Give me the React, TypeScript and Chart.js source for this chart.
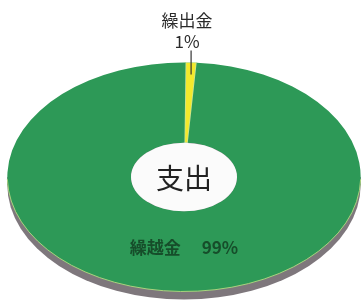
import React, { useEffect, useRef } from "react";
import { Chart, registerables } from "chart.js";

Chart.register(...registerables);

const categories = ["繰出金", "繰越金"];
const values = [1, 99];
const colors = ["#f3e92c", "#2d9957"];
const centerLabel = "支出";

const SX = 1.543; // horizontal stretch of the pie
const DEPTH = 8;

const ellipsePlugin = {
  id: "ellipse3d",
  beforeDatasetsDraw(chart: any) {
    const meta = chart.getDatasetMeta(0);
    const arc = meta.data[0];
    if (!arc) return;
    const { x, y, outerRadius } = arc.getProps(["x", "y", "outerRadius"], true);
    const ctx = chart.ctx;
    ctx.save();
    ctx.beginPath();
    ctx.ellipse(x, y + DEPTH, outerRadius * SX, outerRadius, 0, 0, Math.PI * 2);
    ctx.fillStyle = "#7e777c";
    ctx.fill();
    ctx.fillRect(x - outerRadius * SX, y, outerRadius * SX * 2, DEPTH);
    ctx.restore();
    ctx.save();
    ctx.translate(x, y);
    ctx.scale(SX, 1);
    ctx.translate(-x, -y);
  },
  afterDatasetsDraw(chart: any) {
    chart.ctx.restore();
    const meta = chart.getDatasetMeta(0);
    const a0 = meta.data[0];
    if (!a0) return;
    const { x, y, outerRadius, innerRadius, startAngle, endAngle } = a0.getProps(
      ["x", "y", "outerRadius", "innerRadius", "startAngle", "endAngle"],
      true
    );
    const ctx = chart.ctx;
    ctx.save();
    // hole
    ctx.beginPath();
    ctx.ellipse(x, y, innerRadius * SX, innerRadius, 0, 0, Math.PI * 2);
    ctx.fillStyle = "#fbfbfb";
    ctx.fill();
    // light edge line at bottom front
    ctx.beginPath();
    ctx.ellipse(x, y, outerRadius * SX, outerRadius, 0, 0.02, Math.PI - 0.02);
    ctx.strokeStyle = "#a9d37e";
    ctx.lineWidth = 1;
    ctx.stroke();

    // center label
    ctx.fillStyle = "#222";
    ctx.font = "28px 'Noto Sans CJK JP'";
    ctx.textAlign = "center";
    ctx.textBaseline = "middle";
    ctx.fillText(centerLabel, x, y + 1);

    // small slice label with leader line
    const mid = (startAngle + endAngle) / 2;
    const ex = x + Math.cos(mid) * outerRadius * SX;
    const ey = y + Math.sin(mid) * outerRadius;
    ctx.beginPath();
    ctx.moveTo(ex, ey - 12);
    ctx.lineTo(ex, ey + 12);
    ctx.strokeStyle = "#333";
    ctx.lineWidth = 1.2;
    ctx.stroke();
    ctx.fillStyle = "#2a2a2a";
    ctx.font = "17px 'Noto Sans CJK JP'";
    ctx.textBaseline = "alphabetic";
    ctx.fillText(categories[0], ex - 4, ey - 36);
    ctx.fillText(values[0] + "%", ex - 4, ey - 15);

    // big slice label
    ctx.fillStyle = "#164d2a";
    ctx.font = "bold 17px 'Noto Sans CJK JP'";
    ctx.fillText(categories[1] + "　 " + values[1] + "%", x, y + (innerRadius + outerRadius) / 2 + 3);
    ctx.restore();
  },
};

export default function App() {
  const ref = useRef<HTMLCanvasElement>(null);
  useEffect(() => {
    document.body.style.margin = "0";
    const chart = new Chart(ref.current!, {
      type: "doughnut",
      data: {
        labels: categories,
        datasets: [
          {
            data: values,
            backgroundColor: colors,
            borderColor: ["#c9e49a", "#2d9957"],
            borderWidth: [1, 0],
          },
        ],
      },
      options: {
        responsive: false,
        animation: false,
        cutout: "30%",
        rotation: 0.5,
        layout: { padding: { top: 62, bottom: 14, left: 69, right: 65 } },
        plugins: { legend: { display: false }, tooltip: { enabled: false } },
      },
      plugins: [ellipsePlugin],
    });
    return () => chart.destroy();
  }, []);
  return (
    <div style={{ position: "absolute", left: 0, top: 0, width: 364, height: 306, background: "#fff" }}>
      <canvas ref={ref} width={364} height={306} />
    </div>
  );
}
